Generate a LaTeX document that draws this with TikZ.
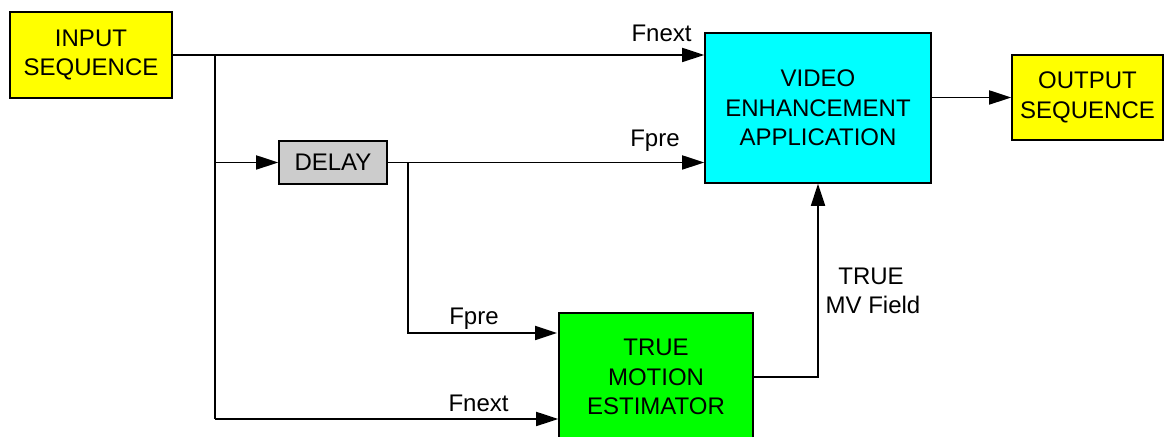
\documentclass[tikz,border=0pt]{standalone}
\usepackage{fontspec}
\setmainfont{Liberation Sans}
\usetikzlibrary{arrows.meta,calc}
\definecolor{cyanbox}{RGB}{0,255,255}
\definecolor{yellowbox}{RGB}{255,255,0}
\definecolor{greenbox}{RGB}{0,255,0}
\definecolor{graybox}{RGB}{204,204,204}
\tikzset{
  blk/.style={draw=black, line width=0.8pt, inner sep=0pt, align=center,
    font=\fontsize{12}{14.7}\selectfont},
  arr/.style={-{Triangle[length=11pt,width=7pt]}, line width=0.9pt},
  ln/.style={line width=0.9pt},
  lbl/.style={inner sep=0pt, font=\fontsize{12}{14.5}\selectfont},
}
\begin{document}
\begin{tikzpicture}[x=0.5pt,y=-0.5pt]
\useasboundingbox (0,0) rectangle (1173,437);
\clip (0,0) rectangle (1173,437);
% boxes
\node[blk, fill=yellowbox, minimum width=81pt, minimum height=43pt] (in) at (91,55) {INPUT\\SEQUENCE};
\node[blk, fill=cyanbox, minimum width=113pt, minimum height=75pt] (vea) at (818,108) {VIDEO\\ENHANCEMENT\\APPLICATION};
\node[blk, fill=yellowbox, minimum width=75.5pt, minimum height=42.5pt] (out) at (1087.5,97.5) {OUTPUT\\SEQUENCE};
\node[blk, fill=graybox, minimum width=54pt, minimum height=21.5pt] (dl) at (333,162.5) {DELAY};
\node[blk, fill=greenbox, minimum width=97pt, minimum height=64pt] (tme) at (656,377) {TRUE\\MOTION\\ESTIMATOR};
% junctions
\coordinate (j1) at (215,55);
\coordinate (j3) at (215,419);
\coordinate (j4) at (408,162.5);
\coordinate (tfp) at (557,333);
% connectors
\draw[arr] (in.east) -- (in.east -| vea.west);
\draw[ln] (j1) -- (j3);
\draw[arr] (j1 |- dl.west) -- (dl.west);
\draw[arr] (j3) -- (j3 -| tme.west);
\draw[arr] (dl.east) -- (dl.east -| vea.west);
\draw[arr] (j4) |- (tfp);
\draw[arr] (tme.east) -| (vea.south);
\draw[arr] (vea.east |- out.west) -- (out.west);
% labels
\node[lbl, anchor=base east] (l1) at (692,42) {Fnext};
\node[lbl, anchor=base east] (l2) at (680,147) {Fpre};
\node[lbl, anchor=base east] (l3) at (499,325) {Fpre};
\node[lbl, anchor=base east] (l4) at (509,412) {Fnext};
\node[lbl, anchor=base] (l5) at (871,285) {TRUE};
\node[lbl, anchor=base] (l6) at (873,314) {MV Field};
\end{tikzpicture}
\end{document}
